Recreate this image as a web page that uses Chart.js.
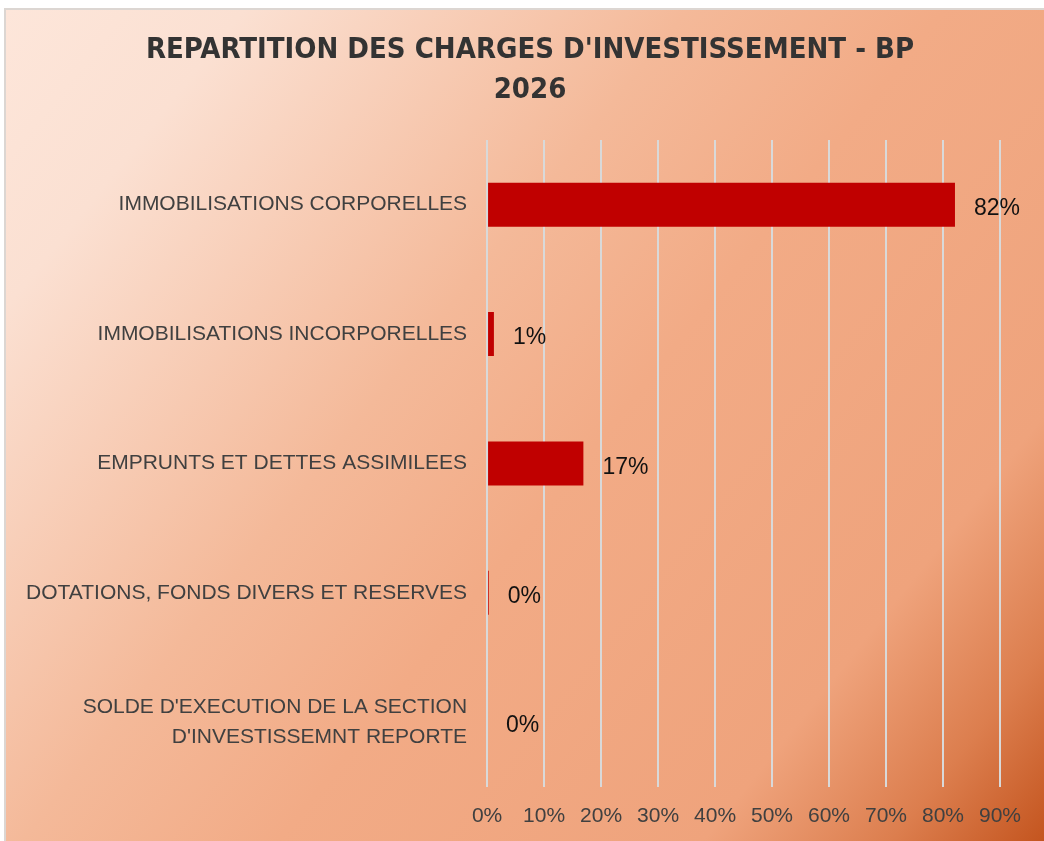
<!DOCTYPE html>
<html><head><meta charset="utf-8">
<script src="https://cdn.jsdelivr.net/npm/chart.js@4.4.1/dist/chart.umd.min.js"></script>
<style>html,body{margin:0;padding:0;background:#fff}#wrap{width:1044px;height:841px;position:relative}</style>
</head><body><div id="wrap"><canvas id="c" width="1044" height="841"></canvas></div>
<script>
const titleLines = ["REPARTITION DES CHARGES D'INVESTISSEMENT - BP", "2026"];
const categories = [
  "IMMOBILISATIONS CORPORELLES",
  "IMMOBILISATIONS INCORPORELLES",
  "EMPRUNTS ET DETTES ASSIMILEES",
  "DOTATIONS, FONDS DIVERS ET RESERVES",
  ["SOLDE D'EXECUTION DE LA SECTION", "D'INVESTISSEMNT REPORTE"]
];
const shares = [82.1, 1.2, 16.9, 0.3, 0];
const shareLabels = ["82%", "1%", "17%", "0%", "0%"];
const tickMax = 90;

const bgPlugin = {
  id: 'bg',
  beforeDraw(chart) {
    const ctx = chart.ctx, W = chart.width, H = chart.height;
    ctx.save();
    ctx.fillStyle = '#ffffff';
    ctx.fillRect(0, 0, W, H);
    ctx.fillStyle = '#dcd6d2';
    ctx.fillRect(4, 8, W - 4, H - 8);
    const g = ctx.createLinearGradient(6, 10, W, H);
    g.addColorStop(0, '#fde6da');
    g.addColorStop(0.14, '#fbe0d2');
    g.addColorStop(0.4, '#f4b999');
    g.addColorStop(0.55, '#f2ab86');
    g.addColorStop(0.8, '#efa37c');
    g.addColorStop(0.91, '#dc7e4e');
    g.addColorStop(1, '#c4551f');
    ctx.fillStyle = g;
    ctx.fillRect(6, 10, W - 6, H - 10);
    ctx.restore();
  },
  afterDraw(chart) {
    const ctx = chart.ctx;
    ctx.save();
    ctx.font = 'bold 29px "Liberation Sans Narrow", "DejaVu Sans Condensed", Arial, sans-serif';
    ctx.fillStyle = '#333333';
    ctx.textAlign = 'center';
    ctx.textBaseline = 'middle';
    titleLines.forEach((t, i) => ctx.fillText(t, 530, 50 + i * 40));
    ctx.restore();
  }
};

const labelPlugin = {
  id: 'vals',
  afterDatasetsDraw(chart) {
    const ctx = chart.ctx;
    const meta = chart.getDatasetMeta(0);
    ctx.save();
    ctx.font = '23px "Liberation Sans", Arial, sans-serif';
    ctx.fillStyle = '#111111';
    ctx.textAlign = 'left';
    ctx.textBaseline = 'middle';
    meta.data.forEach((bar, i) => {
      ctx.fillText(shareLabels[i], bar.x + 19, bar.y + 4);
    });
    ctx.restore();
  }
};

new Chart(document.getElementById('c'), {
  type: 'bar',
  data: {
    labels: categories,
    datasets: [{
      data: shares,
      backgroundColor: '#c00000',
      borderWidth: 0,
      categoryPercentage: 0.68,
      barPercentage: 0.5
    }]
  },
  plugins: [bgPlugin, labelPlugin],
  options: {
    indexAxis: 'y',
    responsive: false,
    animation: false,
    devicePixelRatio: 1,
    layout: { padding: { top: 140, left: 6, right: 44, bottom: -5 } },
    plugins: {
      legend: { display: false },
      tooltip: { enabled: false },
      title: { display: false }
    },
    scales: {
      x: {
        min: 0, max: tickMax,
        grid: { color: '#d9d9d9', lineWidth: 2, drawTicks: false },
        border: { display: false },
        ticks: {
          stepSize: 10,
          padding: 17,
          color: '#404040',
          font: { family: '"Liberation Sans", Arial, sans-serif', size: 21 },
          callback: v => v + '%'
        }
      },
      y: {
        grid: { display: false, drawTicks: false },
        border: { display: false },
        ticks: {
          padding: 20,
          color: '#404040',
          font: { family: '"Liberation Sans", Arial, sans-serif', size: 21, lineHeight: 1.4 }
        }
      }
    }
  }
});
</script></body></html>
